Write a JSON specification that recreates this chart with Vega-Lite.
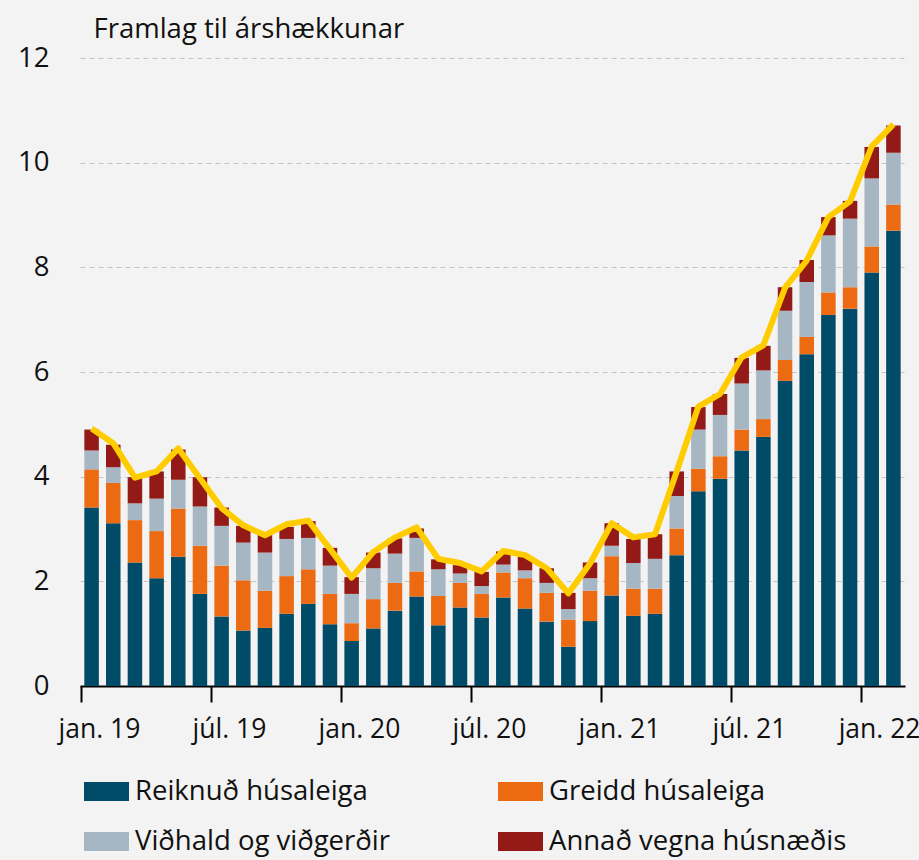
{
  "$schema": "https://vega.github.io/schema/vega-lite/v6.json",
  "width": 825,
  "height": 628,
  "autosize": {"type": "none"},
  "padding": {"left": 80, "top": 58, "right": 14, "bottom": 174},
  "background": "#f3f3f3",
  "config": {
    "view": {"stroke": null},
    "font": "Open Sans",
    "axis": {"labelFont": "Open Sans", "titleFont": "Open Sans", "labelColor": "#111111", "titleColor": "#111111"},
    "legend": {"labelFont": "Open Sans"}
  },
  "datasets": {
    "order": [
      {"key": "Reiknuð húsaleiga", "o": 1},
      {"key": "Greidd húsaleiga", "o": 2},
      {"key": "Viðhald og viðgerðir", "o": 3},
      {"key": "Annað vegna húsnæðis", "o": 4}
    ]
  },
  "data": {
    "values": [
      {"m": "2019-01", "Reiknuð húsaleiga": 3.41, "Greidd húsaleiga": 0.73, "Viðhald og viðgerðir": 0.36, "Annað vegna húsnæðis": 0.40, "Alls": 4.92},
      {"m": "2019-02", "Reiknuð húsaleiga": 3.11, "Greidd húsaleiga": 0.77, "Viðhald og viðgerðir": 0.30, "Annað vegna húsnæðis": 0.43, "Alls": 4.64},
      {"m": "2019-03", "Reiknuð húsaleiga": 2.36, "Greidd húsaleiga": 0.81, "Viðhald og viðgerðir": 0.32, "Annað vegna húsnæðis": 0.50, "Alls": 3.98},
      {"m": "2019-04", "Reiknuð húsaleiga": 2.06, "Greidd húsaleiga": 0.90, "Viðhald og viðgerðir": 0.62, "Annað vegna húsnæðis": 0.52, "Alls": 4.10},
      {"m": "2019-05", "Reiknuð húsaleiga": 2.47, "Greidd húsaleiga": 0.92, "Viðhald og viðgerðir": 0.55, "Annað vegna húsnæðis": 0.58, "Alls": 4.54},
      {"m": "2019-06", "Reiknuð húsaleiga": 1.76, "Greidd húsaleiga": 0.92, "Viðhald og viðgerðir": 0.75, "Annað vegna húsnæðis": 0.56, "Alls": 3.97},
      {"m": "2019-07", "Reiknuð húsaleiga": 1.33, "Greidd húsaleiga": 0.97, "Viðhald og viðgerðir": 0.76, "Annað vegna húsnæðis": 0.35, "Alls": 3.40},
      {"m": "2019-08", "Reiknuð húsaleiga": 1.06, "Greidd húsaleiga": 0.96, "Viðhald og viðgerðir": 0.72, "Annað vegna húsnæðis": 0.32, "Alls": 3.07},
      {"m": "2019-09", "Reiknuð húsaleiga": 1.11, "Greidd húsaleiga": 0.71, "Viðhald og viðgerðir": 0.73, "Annað vegna húsnæðis": 0.34, "Alls": 2.88},
      {"m": "2019-10", "Reiknuð húsaleiga": 1.38, "Greidd húsaleiga": 0.72, "Viðhald og viðgerðir": 0.71, "Annað vegna húsnæðis": 0.23, "Alls": 3.09},
      {"m": "2019-11", "Reiknuð húsaleiga": 1.57, "Greidd húsaleiga": 0.66, "Viðhald og viðgerðir": 0.60, "Annað vegna húsnæðis": 0.32, "Alls": 3.16},
      {"m": "2019-12", "Reiknuð húsaleiga": 1.18, "Greidd húsaleiga": 0.58, "Viðhald og viðgerðir": 0.54, "Annað vegna húsnæðis": 0.34, "Alls": 2.62},
      {"m": "2020-01", "Reiknuð húsaleiga": 0.86, "Greidd húsaleiga": 0.34, "Viðhald og viðgerðir": 0.56, "Annað vegna húsnæðis": 0.32, "Alls": 2.07},
      {"m": "2020-02", "Reiknuð húsaleiga": 1.10, "Greidd húsaleiga": 0.56, "Viðhald og viðgerðir": 0.59, "Annað vegna húsnæðis": 0.30, "Alls": 2.56},
      {"m": "2020-03", "Reiknuð húsaleiga": 1.44, "Greidd húsaleiga": 0.53, "Viðhald og viðgerðir": 0.56, "Annað vegna húsnæðis": 0.29, "Alls": 2.84},
      {"m": "2020-04", "Reiknuð húsaleiga": 1.71, "Greidd húsaleiga": 0.48, "Viðhald og viðgerðir": 0.64, "Annað vegna húsnæðis": 0.18, "Alls": 3.03},
      {"m": "2020-05", "Reiknuð húsaleiga": 1.16, "Greidd húsaleiga": 0.56, "Viðhald og viðgerðir": 0.51, "Annað vegna húsnæðis": 0.19, "Alls": 2.43},
      {"m": "2020-06", "Reiknuð húsaleiga": 1.50, "Greidd húsaleiga": 0.47, "Viðhald og viðgerðir": 0.18, "Annað vegna húsnæðis": 0.16, "Alls": 2.35},
      {"m": "2020-07", "Reiknuð húsaleiga": 1.31, "Greidd húsaleiga": 0.45, "Viðhald og viðgerðir": 0.15, "Annað vegna húsnæðis": 0.27, "Alls": 2.19},
      {"m": "2020-08", "Reiknuð húsaleiga": 1.69, "Greidd húsaleiga": 0.48, "Viðhald og viðgerðir": 0.15, "Annað vegna húsnæðis": 0.25, "Alls": 2.58},
      {"m": "2020-09", "Reiknuð húsaleiga": 1.48, "Greidd húsaleiga": 0.58, "Viðhald og viðgerðir": 0.15, "Annað vegna húsnæðis": 0.26, "Alls": 2.50},
      {"m": "2020-10", "Reiknuð húsaleiga": 1.23, "Greidd húsaleiga": 0.55, "Viðhald og viðgerðir": 0.19, "Annað vegna húsnæðis": 0.28, "Alls": 2.25},
      {"m": "2020-11", "Reiknuð húsaleiga": 0.75, "Greidd húsaleiga": 0.52, "Viðhald og viðgerðir": 0.20, "Annað vegna húsnæðis": 0.31, "Alls": 1.77},
      {"m": "2020-12", "Reiknuð húsaleiga": 1.24, "Greidd húsaleiga": 0.58, "Viðhald og viðgerðir": 0.24, "Annað vegna húsnæðis": 0.30, "Alls": 2.34},
      {"m": "2021-01", "Reiknuð húsaleiga": 1.73, "Greidd húsaleiga": 0.75, "Viðhald og viðgerðir": 0.20, "Annað vegna húsnæðis": 0.43, "Alls": 3.11},
      {"m": "2021-02", "Reiknuð húsaleiga": 1.34, "Greidd húsaleiga": 0.52, "Viðhald og viðgerðir": 0.49, "Annað vegna húsnæðis": 0.46, "Alls": 2.84},
      {"m": "2021-03", "Reiknuð húsaleiga": 1.38, "Greidd húsaleiga": 0.48, "Viðhald og viðgerðir": 0.57, "Annað vegna húsnæðis": 0.47, "Alls": 2.90},
      {"m": "2021-04", "Reiknuð húsaleiga": 2.50, "Greidd húsaleiga": 0.51, "Viðhald og viðgerðir": 0.62, "Annað vegna húsnæðis": 0.47, "Alls": 4.10},
      {"m": "2021-05", "Reiknuð húsaleiga": 3.72, "Greidd húsaleiga": 0.43, "Viðhald og viðgerðir": 0.75, "Annað vegna húsnæðis": 0.43, "Alls": 5.34},
      {"m": "2021-06", "Reiknuð húsaleiga": 3.96, "Greidd húsaleiga": 0.43, "Viðhald og viðgerðir": 0.79, "Annað vegna húsnæðis": 0.40, "Alls": 5.58},
      {"m": "2021-07", "Reiknuð húsaleiga": 4.50, "Greidd húsaleiga": 0.40, "Viðhald og viðgerðir": 0.88, "Annað vegna húsnæðis": 0.49, "Alls": 6.28},
      {"m": "2021-08", "Reiknuð húsaleiga": 4.76, "Greidd húsaleiga": 0.34, "Viðhald og viðgerðir": 0.93, "Annað vegna húsnæðis": 0.47, "Alls": 6.51},
      {"m": "2021-09", "Reiknuð húsaleiga": 5.83, "Greidd húsaleiga": 0.40, "Viðhald og viðgerðir": 0.94, "Annað vegna húsnæðis": 0.45, "Alls": 7.61},
      {"m": "2021-10", "Reiknuð húsaleiga": 6.34, "Greidd húsaleiga": 0.33, "Viðhald og viðgerðir": 1.05, "Annað vegna húsnæðis": 0.42, "Alls": 8.13},
      {"m": "2021-11", "Reiknuð húsaleiga": 7.09, "Greidd húsaleiga": 0.43, "Viðhald og viðgerðir": 1.09, "Annað vegna húsnæðis": 0.35, "Alls": 8.96},
      {"m": "2021-12", "Reiknuð húsaleiga": 7.21, "Greidd húsaleiga": 0.41, "Viðhald og viðgerðir": 1.31, "Annað vegna húsnæðis": 0.34, "Alls": 9.26},
      {"m": "2022-01", "Reiknuð húsaleiga": 7.90, "Greidd húsaleiga": 0.50, "Viðhald og viðgerðir": 1.30, "Annað vegna húsnæðis": 0.60, "Alls": 10.31},
      {"m": "2022-02", "Reiknuð húsaleiga": 8.70, "Greidd húsaleiga": 0.50, "Viðhald og viðgerðir": 0.99, "Annað vegna húsnæðis": 0.52, "Alls": 10.73}
    ]
  },
  "encoding": {
    "x": {
      "field": "m",
      "type": "ordinal",
      "scale": {"paddingInner": 0.33, "paddingOuter": 0.2},
      "axis": {
        "title": null,
        "values": ["2019-01", "2019-07", "2020-01", "2020-07", "2021-01", "2021-07", "2022-01"],
        "labelExpr": "(slice(datum.value, 5) == '01' ? 'jan. ' : 'júl. ') + slice(datum.value, 2, 4)",
        "labelAngle": 0,
        "labelFontSize": 26.5,
        "labelBaseline": "alphabetic",
        "labelPadding": 35,
        "labelOverlap": false,
        "labelBound": false,
        "bandPosition": 0,
        "tickOffset": -3.6,
        "labelOffset": 10.9,
        "domainColor": "#000000",
        "domainWidth": 2,
        "tickColor": "#000000",
        "tickWidth": 2,
        "tickSize": 16,
        "grid": false
      }
    }
  },
  "layer": [
    {
      "transform": [
        {"fold": ["Reiknuð húsaleiga", "Greidd húsaleiga", "Viðhald og viðgerðir", "Annað vegna húsnæðis"]},
        {"lookup": "key", "from": {"data": {"name": "order"}, "key": "key", "fields": ["o"]}}
      ],
      "mark": {"type": "bar"},
      "encoding": {
        "y": {
          "field": "value",
          "type": "quantitative",
          "stack": "zero",
          "scale": {"domain": [0, 12]},
          "axis": {
            "title": "Framlag til árshækkunar",
            "titleAngle": 0,
            "titleAlign": "left",
            "titleBaseline": "alphabetic",
            "titleX": 13,
            "titleY": -21,
            "titleFontSize": 27.5,
            "titleFontWeight": "normal",
            "values": [0, 2, 4, 6, 8, 10, 12],
            "labelFontSize": 27.5,
            "labelPadding": 31,
            "domain": false,
            "ticks": false,
            "grid": true,
            "gridColor": "#c4c4c4",
            "gridDash": [5, 4],
            "gridWidth": 1
          }
        },
        "color": {
          "field": "key",
          "type": "nominal",
          "scale": {
            "domain": ["Reiknuð húsaleiga", "Greidd húsaleiga", "Viðhald og viðgerðir", "Annað vegna húsnæðis"],
            "range": ["#004b67", "#ec6b12", "#a6b7c3", "#931a16"]
          },
          "legend": {
            "title": null,
            "orient": "none",
            "legendX": 4,
            "legendY": 711,
            "direction": "horizontal",
            "columns": 2,
            "symbolType": "M-1,-0.42H1V0.42H-1Z",
            "symbolSize": 2025,
            "symbolStrokeWidth": 0,
            "symbolOpacity": 1,
            "labelFontSize": 27.5,
            "labelOffset": 6,
            "labelLimit": 400,
            "labelColor": "#111111",
            "columnPadding": 108,
            "rowPadding": 14
          }
        },
        "order": {"field": "o", "type": "quantitative", "sort": "ascending"}
      }
    },
    {
      "mark": {"type": "line", "color": "#ffcc00", "strokeWidth": 6, "strokeJoin": "round", "strokeCap": "butt"},
      "encoding": {
        "y": {"field": "Alls", "type": "quantitative"}
      }
    }
  ]
}
